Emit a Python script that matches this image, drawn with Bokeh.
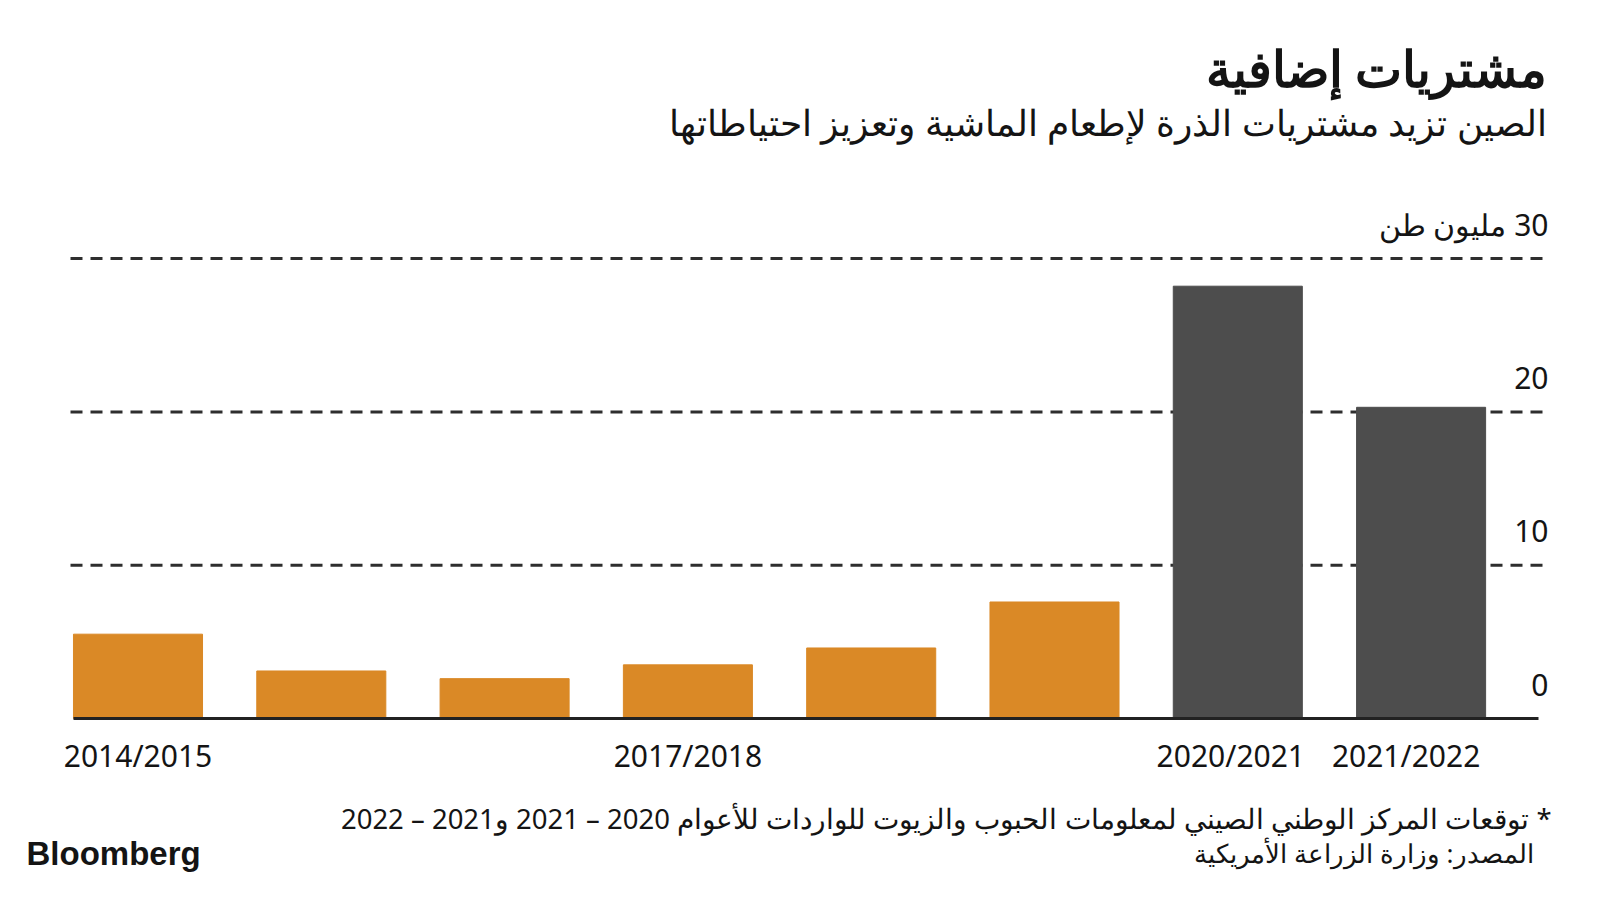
from bokeh.plotting import figure
from bokeh.models import Range1d, Label, ColumnDataSource
from bokeh.core.properties import value
from bokeh.embed import file_html
from bokeh.resources import INLINE

# ---- data ----
seasons = ["2014/2015", "2015/2016", "2016/2017", "2017/2018",
           "2018/2019", "2019/2020", "2020/2021", "2021/2022"]
corn_imports = [5.5, 3.1, 2.6, 3.5, 4.6, 7.6, 28.2, 20.3]
is_forecast = [False, False, False, False, False, False, True, True]
labeled_seasons = ["2014/2015", "2017/2018", "2020/2021", "2021/2022"]
y_ticks = [0, 10, 20, 30]
y_unit = "مليون طن"

title_text = "مشتريات إضافية"
subtitle_text = "الصين تزيد مشتريات الذرة لإطعام الماشية وتعزيز احتياطاتها"
note_text = "* توقعات المركز الوطني الصيني لمعلومات الحبوب والزيوت للواردات للأعوام 2020 – 2021 و2021 – 2022"
source_text = "المصدر: وزارة الزراعة الأمريكية"
brand_text = "Bloomberg"

RLM = "\u200f"
ORANGE = "#DA8926"
GREY = "#4D4D4D"
INK = "#141414"
FONT = "Noto Sans"

W, H = 1600, 900
# pixel geometry of the plotting area (frame covers the whole canvas)
PX_PER_X = 183.3      # pixels per category step
PX_PER_Y = 15.33      # pixels per million tonnes
X0_PX = 137.5         # centre of first bar
Y0_PX = 718           # zero line
x_start = -X0_PX / PX_PER_X
x_end = (W - X0_PX) / PX_PER_X
y_end = Y0_PX / PX_PER_Y
y_start = -(H - Y0_PX) / PX_PER_Y

def dx(X):
    return x_start + X / PX_PER_X

x_idx = list(range(len(seasons)))
colors = [GREY if f else ORANGE for f in is_forecast]

p = figure(width=W, height=H, output_backend="svg", toolbar_location=None,
           x_range=Range1d(x_start, x_end), y_range=Range1d(y_start, y_end),
           x_axis_location=None, y_axis_location=None, min_border=0)
p.outline_line_color = None
p.background_fill_color = "white"
p.border_fill_color = "white"
for g in p.xgrid + p.ygrid:
    g.visible = False

# dashed gridlines
gl = [t for t in y_ticks if t > 0]
p.segment(x0=[dx(70)] * len(gl), x1=[dx(1547)] * len(gl), y0=gl, y1=gl,
          line_color="#2e2e2e", line_width=3, line_dash="12 8")

# bars
src = ColumnDataSource(dict(x=x_idx, top=corn_imports, color=colors))
p.vbar(x="x", top="top", bottom=0, width=0.704, color="color", source=src)

# zero line
p.segment(x0=[dx(73)], x1=[dx(1538)], y0=[0], y1=[0], line_color="#222222", line_width=3)

# x labels (last two nudged left as in the original layout)
label_nudge = [0, 0, -7, -15]
xl_src = ColumnDataSource(dict(x=[seasons.index(s) for s in labeled_seasons],
                               y=[0] * len(labeled_seasons), t=labeled_seasons,
                               off=label_nudge))
p.text(x="x", y="y", text="t", source=xl_src, text_align="center", text_baseline="middle",
       x_offset="off", y_offset=37, text_font=value(FONT), text_font_size="30px",
       text_color=INK)

# y labels above grid lines on the right
ylab = [str(t) for t in y_ticks]
ylab[-1] = RLM + ylab[-1] + " " + y_unit
ysrc = ColumnDataSource(dict(x=[dx(1548)] * len(y_ticks), y=y_ticks, t=ylab))
p.text(x="x", y="y", text="t", source=ysrc, text_align="right", text_baseline="middle",
       y_offset=-34, text_font=value(FONT), text_font_size="30px", text_color=INK)

def add_label(txt, X, Y, size, align="right", bold=False, font=FONT):
    p.add_layout(Label(x=X, y=H - Y, x_units="screen", y_units="screen",
                       text=txt, text_align=align, text_baseline="middle", text_font=font,
                       text_font_size=size, text_color=INK,
                       text_font_style="bold" if bold else "normal"))

add_label(title_text, 1546, 67, "50px", bold=True)
add_label(subtitle_text, 1546, 122, "36px")
add_label(RLM + note_text, 1551, 818, "27.5px")
add_label(source_text, 1533, 852, "26px")
add_label(brand_text, 26, 853, "33px", align="left", bold=True, font="Liberation Sans")

open("out.html", "w").write(file_html(p, INLINE))
